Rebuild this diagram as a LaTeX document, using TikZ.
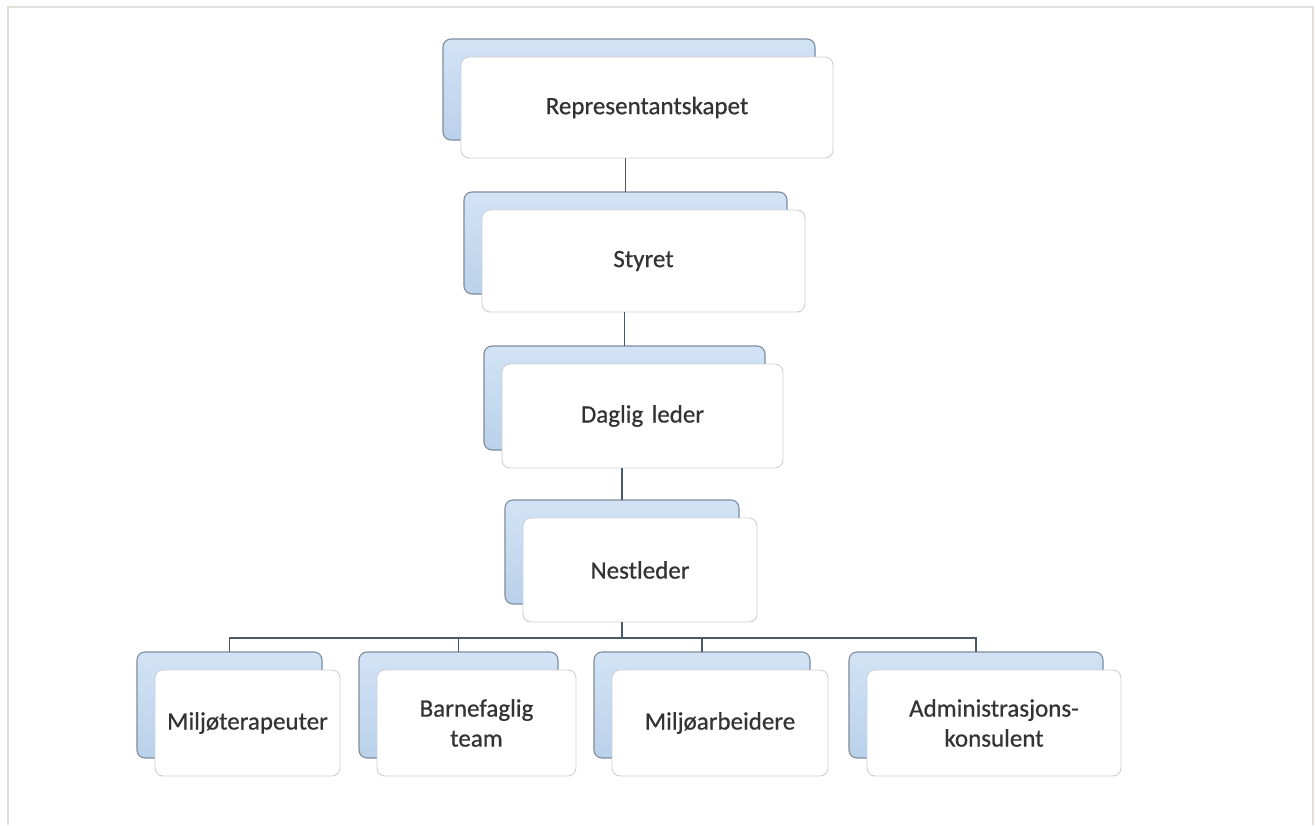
\documentclass[tikz,border=0pt]{standalone}
\usepackage{fontspec}
\setmainfont{Carlito}
\newfontfamily\boxfont{Carlito}[FakeBold=0.6]
\definecolor{framec}{HTML}{E2DDD6}
\definecolor{backtop}{HTML}{D2E3F5}
\definecolor{backbot}{HTML}{BAD1EA}
\definecolor{backdraw}{HTML}{7D8DA0}
\definecolor{frontdraw}{HTML}{CFCFCF}
\definecolor{linec}{HTML}{4B5866}
\definecolor{textc}{HTML}{333333}
\tikzset{
  backbox/.style={draw=backdraw, line width=1.1pt, rounded corners=8pt, top color=backtop, bottom color=backbot, anchor=north west, inner sep=0pt, outer sep=0pt},
  frontbox/.style={draw=frontdraw, line width=0.9pt, rounded corners=8pt, fill=white, anchor=north west, inner sep=2pt, outer sep=0pt, align=center, text=textc, font=\boxfont\fontsize{25}{30}\selectfont},
  conn/.style={draw=linec, line width=1.8pt}
}
\newcommand\orgbox[6]{%
  \node[backbox, minimum width=#4pt, minimum height=#5pt] (#1b) at (#2-18,#3-18) {};
  \node[frontbox, minimum width=#4pt, minimum height=#5pt, text width=#4pt-10pt] (#1) at (#2,#3) {#6};
}
\begin{document}
\begin{tikzpicture}[x=1pt,y=-1pt]
\useasboundingbox (0,0) rectangle (1315,825);
\fill[white] (0,0) rectangle (1315,825);
\draw[framec, line width=2pt] (7.5,825) -- (7.5,6.5) -- (1313,6.5) -- (1313,825);

\orgbox{rep}{461}{57}{372}{101}{Representantskapet}
\orgbox{sty}{482}{210}{323}{102}{Styret}
\orgbox{dag}{502}{364}{281}{104}{Daglig leder}
\orgbox{nes}{523}{518}{234}{104}{Nestleder}
\orgbox{mil}{155}{670}{185}{106}{Miljøterapeuter}
\orgbox{bar}{377}{670}{199}{106}{Barnefaglig\\team}
\orgbox{arb}{612}{670}{216}{106}{Miljøarbeidere}
\orgbox{adm}{867}{670}{254}{106}{Administrasjons-\\konsulent}

\coordinate (bus) at (0,638);
\draw[conn] (styb.north) -- (styb.north |- rep.south);
\draw[conn] (dagb.north) -- (dagb.north |- sty.south);
\draw[conn] (nesb.north) -- (nesb.north |- dag.south);
\draw[conn] (nesb.north |- nes.south) -- (nesb.north |- bus);
\draw[conn] (milb.north) -- (milb.north |- bus) -- (admb.north |- bus) -- (admb.north);
\draw[conn] (barb.north) -- (barb.north |- bus);
\draw[conn] (arbb.north) -- (arbb.north |- bus);
\end{tikzpicture}
\end{document}
